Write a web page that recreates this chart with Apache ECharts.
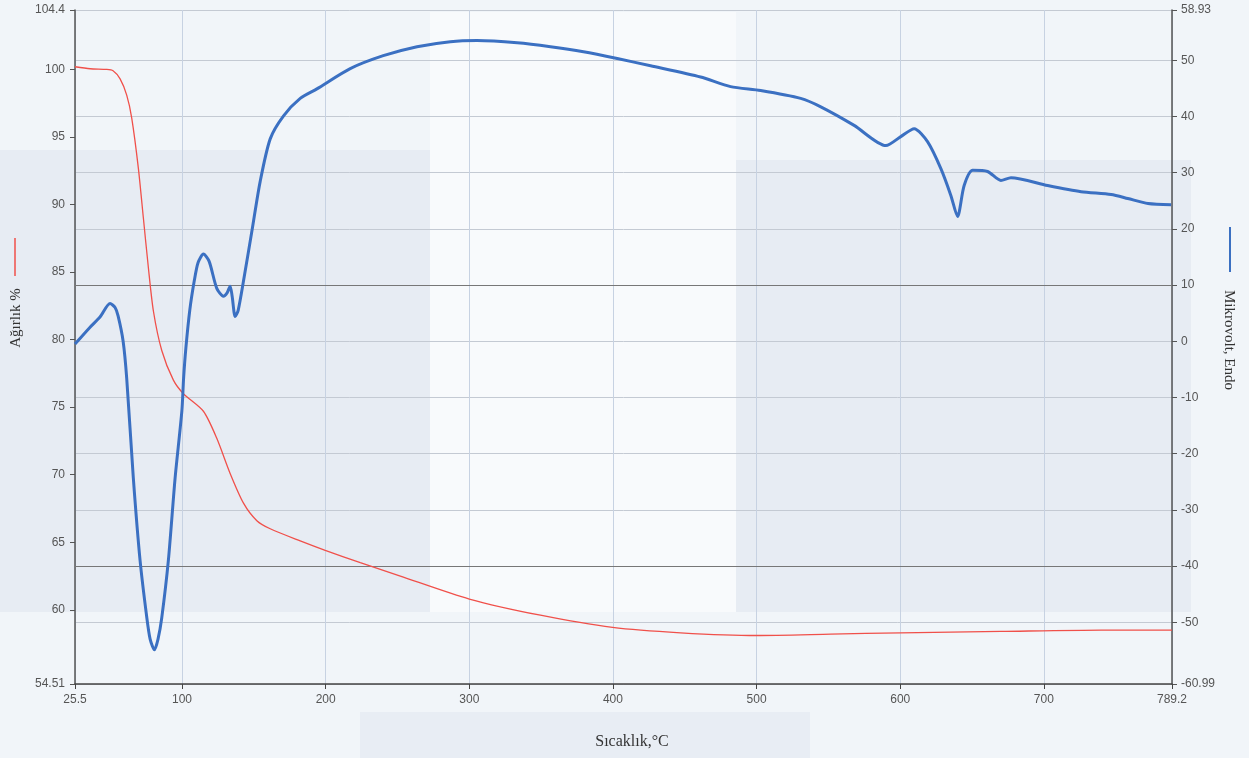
<!DOCTYPE html>
<html>
<head>
<meta charset="utf-8">
<script src="https://cdn.jsdelivr.net/npm/echarts@6/dist/echarts.min.js"></script>
<style>
body { margin: 0px; background: #f1f5f9; }
#main1 { width: 1249px; height: 758px; }
</style>
</head>
<body>
<div id="main1"></div>
<script>
// temperature / weight (red, left axis)
var tempRed = [25.5, 36, 47.6, 52, 56.9, 61.5, 65, 69.6, 73.1, 76.6, 80.1, 85.9, 94, 101, 114.9, 124.2, 133.5, 142.8, 152.1, 161.4, 182.3, 199.7, 224.1, 252, 300, 349.5, 399.7, 447.1, 500, 551.6, 600.4, 670, 739.8, 789.2];
var weight = [100.2, 100.05, 100.0, 99.9, 99.3, 98.1, 96.4, 92.7, 89, 85.3, 82.1, 79.2, 77.0, 76.0, 74.7, 72.7, 70.1, 67.9, 66.6, 66.0, 65.1, 64.4, 63.5, 62.5, 60.8, 59.6, 58.7, 58.3, 58.1, 58.2, 58.3, 58.4, 58.5, 58.5];

// temperature / microvolt (blue, right axis)
var tempBlue = [25.5, 36, 42.9, 49.9, 53.4, 55.5, 59, 61.5, 66.1, 70.8, 75.5, 77.8, 80.8, 83.3, 85.9, 90.5, 95.2, 99.9, 101.1, 102.7, 105.4, 108.5, 111.2, 114.9, 118.9, 124.2, 128.8, 131.4, 133.5, 134.9, 137, 139.1, 142.8, 148.6, 154.4, 161.4, 170.7, 182.3, 193.9, 217.1, 240.1, 263.6, 286.8, 305.4, 333.3, 356.5, 379.5, 403, 426.2, 461, 481.9, 502.8, 530.7, 544.7, 567.9, 590, 600.4, 609.7, 619, 628.3, 635.3, 639.9, 644.5, 650.4, 660.8, 670.1, 677.1, 702.6, 725.9, 746.8, 758.4, 772.5, 788.6];
var microvolt = [-0.5, 2.5, 4.3, 6.7, 6.0, 4.5, 0, -6.6, -24.3, -39, -49.2, -53, -54.9, -53, -49.2, -39, -24.3, -12.4, -6.6, -1.2, 5.5, 10.7, 14, 15.5, 14.2, 9.4, 8, 8.6, 9.8, 8, 4.4, 5.5, 10.7, 19.5, 28.4, 36, 40.1, 43.2, 44.9, 48.5, 50.8, 52.4, 53.3, 53.5, 53.1, 52.4, 51.5, 50.3, 49, 47, 45.3, 44.6, 43.2, 41.7, 38.4, 34.8, 36.4, 37.8, 35.5, 30.7, 25.9, 22.2, 27.7, 30.4, 30.2, 28.6, 29.1, 27.7, 26.6, 26.1, 25.4, 24.5, 24.3];

// tick labels
var xTicks = [25.5, 100, 200, 300, 400, 500, 600, 700, 789.2];
var leftTicks = [54.51, 60, 65, 70, 75, 80, 85, 90, 95, 100, 104.4];
var rightTicks = [-60.99, -50, -40, -30, -20, -10, 0, 10, 20, 30, 40, 50, 58.93];

var redData = tempRed.map(function (t, i) { return [t, weight[i]]; });
var blueData = tempBlue.map(function (t, i) { return [t, microvolt[i]]; });

var myChart = echarts.init(document.getElementById('main1'));

var labelStyle = {
	color: '#555',
	fontSize: 12,
	fontFamily: 'Liberation Sans'
};

var option = {
	backgroundColor: '#f1f5f9',
	animation: false,
	grid: {
		left: 75,
		right: 77,
		top: 10,
		bottom: 74
	},
	graphic: [
		// scanned paper shading
		{ type: 'rect', z: -10, shape: { x: 0, y: 150, width: 430, height: 462 }, style: { fill: '#e7ecf3' } },
		{ type: 'rect', z: -10, shape: { x: 736, y: 160, width: 455, height: 452 }, style: { fill: '#e7ecf3' } },
		{ type: 'rect', z: -10, shape: { x: 430, y: 12, width: 306, height: 600 }, style: { fill: '#f8fafc' } },
		{ type: 'rect', z: -10, shape: { x: 360, y: 712, width: 450, height: 46 }, style: { fill: '#e8edf4' } },
		// legend swatches next to axis names
		{ type: 'line', shape: { x1: 15, y1: 238, x2: 15, y2: 276 }, style: { stroke: '#f0504a', lineWidth: 1.5 } },
		{ type: 'line', shape: { x1: 1230, y1: 227, x2: 1230, y2: 272 }, style: { stroke: '#3b70c2', lineWidth: 2 } },
		{
			type: 'text', x: 16, y: 318, rotation: Math.PI / 2,
			style: { text: 'Ağırlık %', fill: '#333', font: '15px "Liberation Serif"', textAlign: 'center', textVerticalAlign: 'middle' }
		},
		{
			type: 'text', x: 1229, y: 340, rotation: -Math.PI / 2,
			style: { text: 'Mikrovolt, Endo', fill: '#333', font: '15px "Liberation Serif"', textAlign: 'center', textVerticalAlign: 'middle' }
		},
		{
			type: 'text', x: 632, y: 742,
			style: { text: 'Sıcaklık,°C', fill: '#333', font: '16px "Liberation Serif"', textAlign: 'center', textVerticalAlign: 'middle' }
		}
	],
	xAxis: {
		type: 'value',
		min: 25.5,
		max: 789.2,
		axisLine: { onZero: false, lineStyle: { color: '#444', width: 1.5 } },
		axisTick: { customValues: xTicks, length: 5, lineStyle: { color: '#444' } },
		axisLabel: Object.assign({ customValues: xTicks, margin: 10, formatter: function (v) { return String(v); } }, labelStyle),
		splitLine: { show: true, lineStyle: { color: '#c7d2e2', width: 1 } }
	},
	yAxis: [
		{
			type: 'value',
			min: 54.51,
			max: 104.4,
			position: 'left',
			axisLine: { show: true, onZero: false, lineStyle: { color: '#555', width: 1.5 } },
			axisTick: { show: true, customValues: leftTicks, length: 5, lineStyle: { color: '#555' } },
			axisLabel: Object.assign({ customValues: leftTicks, margin: 10, formatter: function (v) { return String(v); } }, labelStyle),
			splitLine: { show: false }
		},
		{
			type: 'value',
			min: -60.99,
			max: 58.93,
			position: 'right',
			axisLine: { show: true, onZero: false, lineStyle: { color: '#555', width: 1.5 } },
			axisTick: { show: true, customValues: rightTicks, length: 5, lineStyle: { color: '#555' } },
			axisLabel: Object.assign({ customValues: rightTicks, margin: 9, formatter: function (v) { return String(v); } }, labelStyle),
			splitLine: { show: true, lineStyle: { color: '#c4cad3', width: 1 } }
		}
	],
	series: [
		{
			name: 'Ağırlık %',
			type: 'line',
			yAxisIndex: 0,
			data: redData,
			showSymbol: false,
			smooth: 0.25,
			lineStyle: { color: '#f0504a', width: 1.3 },
			z: 3
		},
		{
			name: 'Mikrovolt, Endo',
			type: 'line',
			yAxisIndex: 1,
			data: blueData,
			showSymbol: false,
			smooth: 0.25,
			lineStyle: { color: '#3b70c2', width: 3 },
			z: 4,
			markLine: {
				silent: true,
				symbol: 'none',
				label: { show: false },
				lineStyle: { color: '#777', type: 'solid', width: 1.2 },
				data: [{ yAxis: 10 }, { yAxis: -40 }],
				z: 1
			}
		}
	]
};

myChart.setOption(option);
</script>
</body>
</html>
